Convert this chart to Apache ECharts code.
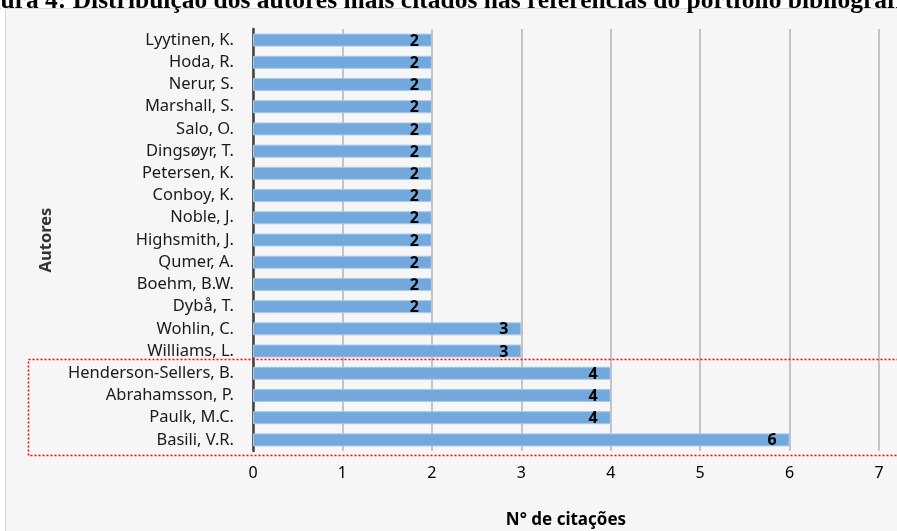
<!DOCTYPE html>
<html>
<head>
<meta charset="utf-8">
<script src="https://cdn.jsdelivr.net/npm/echarts@6/dist/echarts.min.js"></script>
<style>
  html, body { margin: 0; padding: 0; background: #ffffff; }
  #chart { width: 897px; height: 531px; }
</style>
</head>
<body>
<div id="chart"></div>
<script>
// Authors, listed from top to bottom
const authors = [
  'Lyytinen, K.', 'Hoda, R.', 'Nerur, S.', 'Marshall, S.', 'Salo, O.',
  'Dingsøyr, T.', 'Petersen, K.', 'Conboy, K.', 'Noble, J.', 'Highsmith, J.',
  'Qumer, A.', 'Boehm, B.W.', 'Dybå, T.', 'Wohlin, C.', 'Williams, L.',
  'Henderson-Sellers, B.', 'Abrahamsson, P.', 'Paulk, M.C.', 'Basili, V.R.'
];
// Number of citations per author
const citations = [2, 2, 2, 2, 2, 2, 2, 2, 2, 2, 2, 2, 2, 3, 3, 4, 4, 4, 6];
const xTicks = [0, 1, 2, 3, 4, 5, 6, 7];

const titleText = 'Figura 4: Distribuição dos autores mais citados nas referências do portfólio bibliográfico';

const chart = echarts.init(document.getElementById('chart'), null, { renderer: 'canvas' });

chart.setOption({
  backgroundColor: '#ffffff',
  animation: false,
  graphic: [
    {
      type: 'rect', z: -10, silent: true,
      shape: { x: 5.5, y: 8.5, width: 900, height: 530 },
      style: { fill: '#f6f6f6', stroke: '#d9d9d9', lineWidth: 1 }
    },
    {
      type: 'text', z: -5, silent: true,
      x: -35, y: 14,
      style: {
        text: titleText, font: 'bold 25.5px "Liberation Serif", serif', fill: '#000',
        verticalAlign: 'bottom'
      }
    },
    {
      type: 'rect', z: 20, silent: true,
      shape: { x: 28.5, y: 359.5, width: 880, height: 96 },
      style: { fill: 'none', stroke: '#ff0000', lineWidth: 1.5, lineDash: [2, 2] }
    }
  ],
  grid: {
    left: 253, right: 18, top: 29, bottom: 80,
    containLabel: false, outerBoundsMode: 'none'
  },
  xAxis: {
    type: 'value',
    min: 0, max: 7, interval: 1,
    name: 'N° de citações',
    nameLocation: 'middle',
    nameGap: 61,
    nameTextStyle: { fontFamily: 'Noto Sans', fontWeight: 'bold', fontSize: 17, color: '#000' },
    axisLine: { show: false },
    axisTick: { show: false },
    axisLabel: {
      fontFamily: 'Noto Sans', fontSize: 16, color: '#000', margin: 14,
      formatter: v => String(xTicks[v])
    },
    splitLine: { show: true, lineStyle: { color: '#b3b3b3', width: 1.5 } }
  },
  yAxis: {
    type: 'category',
    data: authors,
    inverse: true,
    name: 'Autores',
    nameLocation: 'middle',
    nameGap: 198,
    nameRotate: 90,
    nameTextStyle: { fontFamily: 'Noto Sans', fontWeight: 'bold', fontSize: 16.5, color: '#333' },
    axisLine: { show: true, lineStyle: { color: '#404040', width: 2.5 } },
    axisTick: { show: false },
    axisLabel: {
      interval: 0, fontFamily: 'Noto Sans', fontSize: 16.5, color: '#1a1a1a', margin: 19
    },
    splitLine: { show: false }
  },
  series: [{
    type: 'bar',
    data: citations,
    barWidth: 13,
    itemStyle: { color: '#72a8db', borderColor: '#a8c9ea', borderWidth: 1 },
    label: {
      show: true,
      position: 'insideRight',
      offset: [-8, 1],
      fontFamily: 'Noto Sans',
      fontWeight: 'bold',
      fontSize: 16,
      color: '#000'
    }
  }]
});
</script>
</body>
</html>
